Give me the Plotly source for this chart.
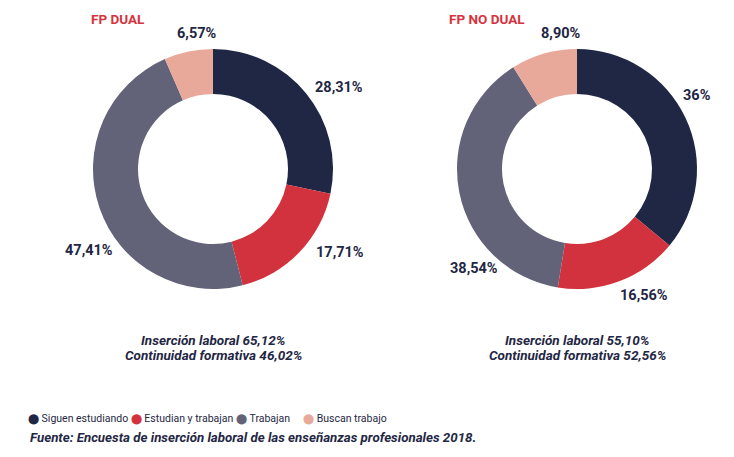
import plotly.graph_objects as go

# data
categories = ["Siguen estudiando", "Estudian y trabajan", "Trabajan", "Buscan trabajo"]
dual_values = [28.31, 17.71, 47.41, 6.57]
no_dual_values = [36.00, 16.56, 38.54, 8.90]
dual_notes = ["Inserción laboral 65,12%", "Continuidad formativa 46,02%"]
no_dual_notes = ["Inserción laboral 55,10%", "Continuidad formativa 52,56%"]
source_text = "Fuente: Encuesta de inserción laboral de las enseñanzas profesionales 2018."

colors = ["#1f2744", "#d1323d", "#626278", "#e9a99a"]
navy = "#1f2744"
red = "#d63340"
font_family = "Roboto, Liberation Sans, sans-serif"

# page puts the figure 8px in from the top-left corner
OFF = 8
W, H = 734 - OFF, 457 - OFF

# where the percentage labels sit (reference pixels), one per slice
dual_label_pos = [(339, 88), (340, 253), (89, 250), (197, 34)]
no_dual_label_pos = [(697, 95), (644, 295), (474, 268), (561, 33)]


def px(x):
    return (x - OFF) / W


def py(y):
    return 1 - (y - OFF) / H


def pct_label(v):
    if float(v).is_integer():
        return f"{int(v)}%"
    return f"{v:.2f}".replace(".", ",") + "%"


def dom(cx, cy, r):
    """reference pixel centre/radius -> paper domain"""
    return dict(x=[px(cx - r), px(cx + r)], y=[py(cy + r), py(cy - r)])


fig = go.Figure()
annotations = []

charts = [
    (dual_values, (213, 169), dual_label_pos),
    (no_dual_values, (577, 169), no_dual_label_pos),
]
for vals, (cx, cy), label_pos in charts:
    fig.add_trace(go.Pie(
        labels=categories,
        values=vals,
        textinfo="none",
        hole=0.625,
        sort=False,
        direction="clockwise",
        rotation=0,
        marker=dict(colors=colors, line=dict(width=0)),
        domain=dom(cx, cy, 120),
        showlegend=False,
        hoverinfo="label+percent",
    ))
    for v, (lx, ly) in zip(vals, label_pos):
        annotations.append(dict(text=f"<b>{pct_label(v)}</b>", x=px(lx), y=py(ly),
                                xanchor="center", yanchor="middle",
                                font=dict(size=14.5, color=navy)))

# legend row: coloured dots + names
NB = "\u00a0"
legend_parts = []
for i, (name, c) in enumerate(zip(categories, colors)):
    gap = NB * 5 if i == 3 else NB
    legend_parts.append(f'{gap}<span style="color:{c};font-size:9.5px">\u2b24</span>{NB}{name}')
legend_text = "".join(legend_parts)[1:]

annotations += [
    dict(text="<b>FP DUAL</b>", x=px(89), y=py(19), xanchor="left", yanchor="middle",
         font=dict(size=13.5, color=red)),
    dict(text="<b>FP NO DUAL</b>", x=px(447), y=py(19), xanchor="left", yanchor="middle",
         font=dict(size=13.5, color=red)),
    dict(text=legend_text, x=px(26), y=py(418), xanchor="left", yanchor="middle",
         font=dict(size=10.5, color=navy)),
    dict(text="<b><i>" + source_text + "</i></b>", x=px(28), y=py(437),
         xanchor="left", yanchor="middle", font=dict(size=13.3, color=navy)),
]
for notes, cx in [(dual_notes, 213), (no_dual_notes, 577)]:
    for j, line in enumerate(notes):
        annotations.append(dict(text=f"<b><i>{line}</i></b>", x=px(cx), y=py(340 + 15 * j),
                                xanchor="center", yanchor="middle",
                                font=dict(size=13.5, color=navy)))

for a in annotations:
    a.update(xref="paper", yref="paper", showarrow=False)
    a["font"]["family"] = font_family

fig.update_layout(
    width=W, height=H,
    margin=dict(l=0, r=0, t=0, b=0),
    paper_bgcolor="white",
    plot_bgcolor="white",
    font=dict(family=font_family, color=navy),
    showlegend=False,
    annotations=annotations,
)

fig.write_html("out.html")
